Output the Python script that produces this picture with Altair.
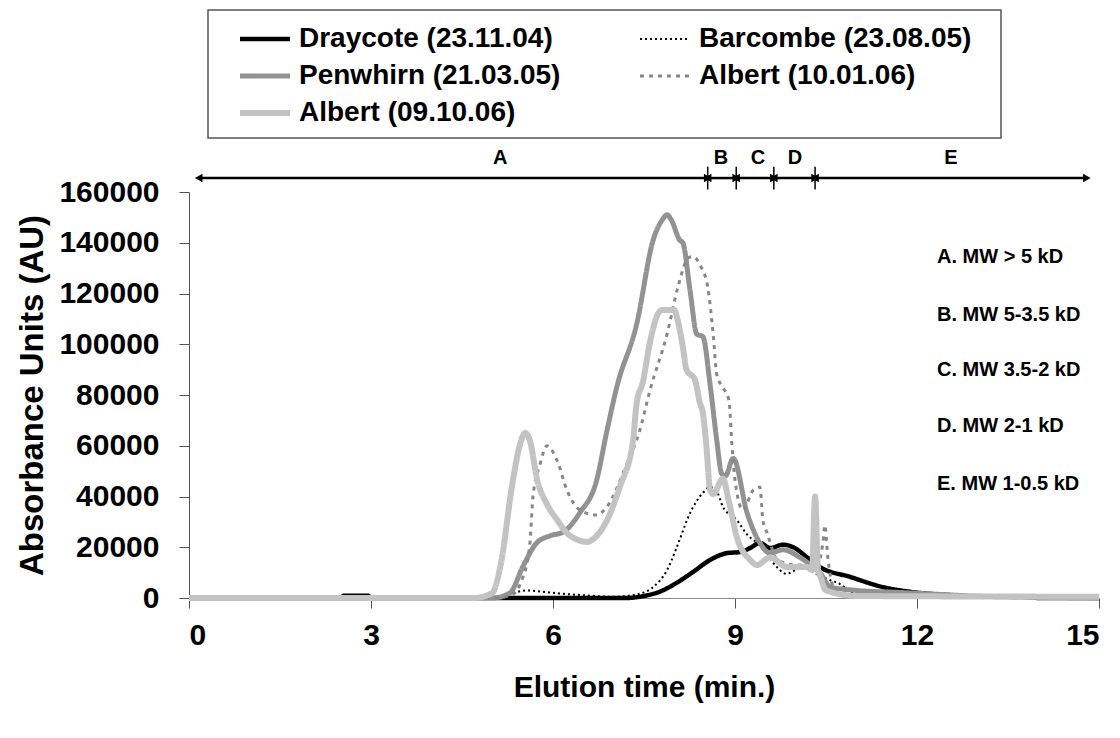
import altair as alt
import pandas as pd

FONT = "Liberation Sans"

series_names = ["Draycote (23.11.04)", "Barcombe (23.08.05)", "Penwhirn (21.03.05)",
                "Albert (10.01.06)", "Albert (09.10.06)"]
series_colors = ["#000000", "#000000", "#929292", "#878787", "#c3c3c3"]
series_dash = [[1, 0], [2, 3], [1, 0], [4, 5], [1, 0]]
series_width = [4.5, 2, 5, 3, 6]
# legend is filled column by column: this order gives the reference's rows
legend_order = ["Draycote (23.11.04)", "Penwhirn (21.03.05)", "Albert (09.10.06)",
                "Barcombe (23.08.05)", "Albert (10.01.06)"]

# (elution time, absorbance)
draycote = [(0, 0), (2.5, 0), (2.55, 900), (2.95, 900), (3.0, 0), (7.2, 0), (7.5, 800),
            (7.76, 2500), (8.04, 6000), (8.31, 10300), (8.59, 15000), (8.87, 17700),
            (9.08, 18100), (9.25, 19700), (9.41, 21700), (9.58, 19700), (9.79, 21000),
            (9.96, 20000), (10.19, 16000), (10.4, 12200), (10.9, 8300), (11.44, 4300),
            (11.9, 2400), (12.5, 1200), (13.0, 600), (13.9, 400), (14.0, 0), (15.0, 0)]
barcombe = [(0, 0), (5.0, 0), (5.34, 2000), (5.57, 3000), (5.8, 2500), (6.1, 1800),
            (6.44, 1200), (7.0, 500), (7.4, 1500), (7.65, 4300), (7.88, 11000),
            (8.04, 20000), (8.26, 33500), (8.47, 41400), (8.59, 43700), (8.7, 42000),
            (8.8, 36000), (9.03, 30700), (9.2, 25000), (9.46, 20000), (9.69, 12200),
            (9.85, 9500), (10.0, 11000), (10.15, 12000), (10.3, 10000), (10.57, 7000),
            (10.73, 5500), (10.9, 2500), (11.2, 500), (11.6, 0), (15.0, 0)]
penwhirn = [(0, 0), (5.0, 0), (5.29, 2000), (5.5, 12200), (5.73, 21700), (5.95, 24500),
            (6.17, 26000), (6.44, 33500), (6.72, 46500), (6.89, 66000), (7.05, 83000),
            (7.38, 108000), (7.65, 141000), (7.8, 149000), (7.88, 151000), (7.95, 149000),
            (8.09, 141000), (8.14, 140000), (8.26, 121000), (8.37, 104000), (8.47, 103000),
            (8.59, 84000), (8.7, 62000), (8.78, 49000), (8.84, 48000), (8.97, 55000),
            (9.2, 33500), (9.41, 21700), (9.58, 17700), (9.79, 19000), (10.07, 16000),
            (10.3, 12000), (10.4, 10000), (10.57, 4300), (11.0, 3000), (11.7, 2200),
            (12.3, 1500), (13.0, 700), (14.0, 300), (15.0, 0)]
albert_100106 = [(0, 0), (5.0, 0), (5.3, 1000), (5.5, 8000), (5.62, 21700), (5.67, 40000),
                 (5.79, 53000), (5.9, 60000), (6.07, 54000), (6.23, 42500), (6.44, 34700),
                 (6.72, 32700), (6.89, 36000), (7.22, 53000), (7.43, 66000), (7.6, 82000),
                 (7.88, 104000), (8.06, 122600), (8.23, 134000), (8.3, 134500), (8.45, 130000),
                 (8.55, 122600), (8.64, 104000), (8.7, 88000), (8.8, 83000), (8.9, 78000),
                 (8.95, 60000), (9.0, 46500), (9.13, 34700), (9.3, 42500), (9.41, 43700),
                 (9.46, 30700), (9.53, 25600), (9.7, 15000), (10.0, 13000), (10.35, 13000),
                 (10.45, 22000), (10.48, 28700), (10.53, 16000), (10.65, 3000), (11.0, 1000),
                 (12.0, 500), (15.0, 0)]
albert_091006 = [(0, 0), (4.7, 0), (5.0, 2000), (5.13, 12200), (5.34, 46500), (5.45, 60000),
                 (5.54, 65000), (5.62, 62000), (5.74, 46500), (5.9, 37000), (6.07, 30700),
                 (6.23, 25600), (6.4, 23000), (6.56, 22100), (6.7, 24000), (6.83, 28000),
                 (7.1, 43700), (7.32, 62300), (7.38, 77000), (7.48, 85000), (7.6, 101000),
                 (7.73, 112000), (7.8, 113500), (8.0, 113500), (8.05, 110000), (8.14, 99000),
                 (8.2, 90000), (8.34, 86000), (8.42, 77000), (8.47, 73000), (8.53, 59500),
                 (8.59, 42500), (8.64, 41000), (8.8, 47000), (8.9, 38000), (9.03, 24000),
                 (9.25, 15000), (9.36, 13000), (9.58, 16000), (9.86, 12200), (10.19, 12200),
                 (10.27, 11000), (10.32, 40000), (10.37, 11000), (10.4, 9000), (10.5, 3000),
                 (11.0, 800), (15.0, 500)]
series_points = [draycote, barcombe, penwhirn, albert_100106, albert_091006]

x_ticks = [0, 3, 6, 9, 12, 15]
y_ticks = [0, 20000, 40000, 60000, 80000, 100000, 120000, 140000, 160000]

# molecular-weight regions drawn above the plot
region_labels = ["A", "B", "C", "D", "E"]
region_start = [0.16, 8.55, 9.02, 9.64, 10.32]
region_end = [8.55, 9.02, 9.64, 10.32, 14.8]
region_label_x = [5.13, 8.77, 9.38, 9.99, 12.56]
region_level = 165500
region_label_level = 173400
region_notes = ["A. MW > 5 kD", "B. MW 5-3.5 kD", "C. MW 3.5-2 kD", "D. MW 2-1 kD", "E. MW 1-0.5 kD"]
region_note_x = 12.33
region_note_y = [134400, 111500, 89900, 67800, 44900]

rows = []
for name, pts in zip(series_names, series_points):
    for t, v in pts:
        rows.append({"series": name, "time": t, "au": v})
df = pd.DataFrame(rows)

seg = pd.DataFrame({"label": region_labels, "x0": region_start, "x1": region_end,
                    "lx": region_label_x, "y": [region_level] * 5,
                    "ly": [region_label_level] * 5})
bounds = pd.DataFrame({"x": region_start[1:], "y0": [region_level - 4500] * 4,
                       "y1": [region_level + 4500] * 4})
heads = pd.DataFrame({"x": region_start + region_end,
                      "shape": ["triangle-left"] * 5 + ["triangle-right"] * 5,
                      "off": [4] * 5 + [-4] * 5,
                      "y": [region_level] * 10})
notes = pd.DataFrame({"text": region_notes, "x": [region_note_x] * 5, "y": region_note_y})

xscale = alt.Scale(domain=[0, 15], nice=False, zero=False)
yscale = alt.Scale(domain=[0, 160000], nice=False)

def pick(values):
    return [values[series_names.index(n)] for n in legend_order]

color_scale = alt.Scale(domain=legend_order, range=pick(series_colors))
dash_scale = alt.Scale(domain=legend_order, range=pick(series_dash))
width_scale = alt.Scale(type="ordinal", domain=legend_order, range=pick(series_width))

legend = alt.Legend(title=None, orient="none", legendX=48, legendY=-168, columns=2,
                    symbolType="stroke", symbolSize=2500, clipHeight=30,
                    labelFont=FONT, labelFontSize=28, labelFontWeight="bold",
                    labelColor="#000", labelLimit=500, labelOffset=6,
                    columnPadding=76, rowPadding=7, padding=0,
                    symbolStrokeColor="#000")

x_axis = alt.Axis(values=x_ticks, format="d", title="Elution time (min.)", labelFont=FONT,
                  labelFontSize=30, labelFontWeight="bold", labelColor="#000",
                  labelPadding=12, tickSize=10, tickColor="#555", domainColor="#888",
                  titleFont=FONT, titleFontSize=30, titleFontWeight="bold",
                  titleColor="#000", titlePadding=22, grid=False)
y_axis = alt.Axis(values=y_ticks, format="d", title="Absorbance Units (AU)",
                  labelFont=FONT, labelFontSize=30, labelFontWeight="bold",
                  labelColor="#000", labelPadding=20, tickSize=10, tickColor="#555",
                  domainColor="#555", titleFont=FONT, titleFontSize=33,
                  titleFontWeight="bold", titleColor="#000", titlePadding=9, grid=False)

# legend frame (decoration behind the legend entries)
frame = alt.Chart(pd.DataFrame({"k": [0]})).mark_rect(
    fill="white", stroke="#555555", strokeWidth=1.5).encode(
    x=alt.value(19), x2=alt.value(812), y=alt.value(-182), y2=alt.value(-54))

layers = [frame]
for name in series_names:
    enc = dict(
        x=alt.X("time:Q", scale=xscale, axis=x_axis),
        y=alt.Y("au:Q", scale=yscale, axis=y_axis),
        color=alt.Color("series:N", scale=color_scale, legend=legend),
        strokeDash=alt.StrokeDash("series:N", scale=dash_scale, legend=legend),
        strokeWidth=alt.StrokeWidth("series:N", scale=width_scale, legend=legend),
        order=alt.Order("time:Q"),
    )
    layers.append(
        alt.Chart(df).transform_filter(alt.datum.series == name)
        .mark_line(interpolate="monotone", strokeJoin="round").encode(**enc)
    )

seg_rules = alt.Chart(seg).mark_rule(color="#000", strokeWidth=2.5).encode(
    x=alt.X("x0:Q", scale=xscale), x2="x1:Q", y=alt.Y("y:Q", scale=yscale))
seg_text = alt.Chart(seg).mark_text(font=FONT, fontSize=20, fontWeight="bold",
                                    color="#000", baseline="middle").encode(
    x=alt.X("lx:Q", scale=xscale), y=alt.Y("ly:Q", scale=yscale), text="label:N")
bound_rules = alt.Chart(bounds).mark_rule(color="#000", strokeWidth=1.5).encode(
    x=alt.X("x:Q", scale=xscale), y=alt.Y("y0:Q", scale=yscale), y2="y1:Q")
head_pts = alt.Chart(heads).mark_point(filled=True, size=75, color="#000", opacity=1).encode(
    x=alt.X("x:Q", scale=xscale), y=alt.Y("y:Q", scale=yscale),
    shape=alt.Shape("shape:N", scale=None), xOffset=alt.XOffset("off:Q", scale=None))
note_text = alt.Chart(notes).mark_text(font=FONT, fontSize=20, fontWeight="bold",
                                       color="#000", align="left", baseline="middle").encode(
    x=alt.X("x:Q", scale=xscale), y=alt.Y("y:Q", scale=yscale), text="text:N")

chart = alt.layer(*layers, seg_rules, bound_rules, head_pts, seg_text, note_text).properties(
    width=910, height=406,
    autosize=alt.AutoSizeParams(type="none"),
    padding={"left": 189, "top": 192, "right": 21, "bottom": 140},
    background="white",
).configure_view(strokeWidth=0)

chart.save("out.html", embed_options={"renderer": "svg", "actions": False})
